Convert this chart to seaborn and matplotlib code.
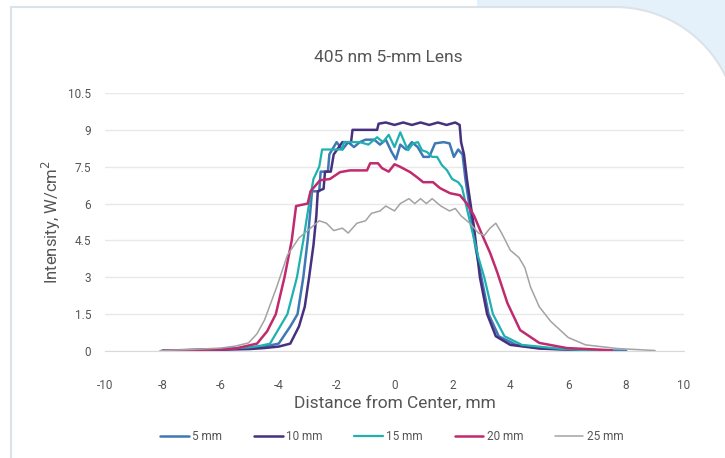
import numpy as np
import pandas as pd
import seaborn as sns
import matplotlib
matplotlib.use("Agg")
from matplotlib import pyplot as plt
from matplotlib.path import Path
from matplotlib.patches import PathPatch, Rectangle

# values
x5 = [-8.0, -7.0, -6.0, -5.0, -4.5, -4.0, -3.6, -3.35, -3.15, -3.0, -2.9, -2.85, -2.6, -2.55, -2.3, -2.25,
      -2.0, -1.8, -1.6, -1.4, -1.2, -1.0, -0.7, -0.5, -0.3, -0.1, 0.05, 0.2, 0.4, 0.6, 0.8, 1.0, 1.2,
      1.4, 1.7, 1.9, 2.05, 2.2, 2.35, 2.45, 2.6, 2.8, 3.0, 3.25, 3.6, 4.2, 5.0, 6.0, 7.0, 8.0]
y5 = [0.02, 0.04, 0.07, 0.12, 0.18, 0.3, 1.0, 1.5, 3.0, 4.5, 5.8, 6.5, 6.5, 7.3, 7.3, 8.0,
      8.5, 8.2, 8.5, 8.3, 8.5, 8.6, 8.6, 8.4, 8.6, 8.1, 7.8, 8.4, 8.2, 8.5, 8.3, 7.9, 7.9,
      8.45, 8.5, 8.45, 7.9, 8.2, 8.0, 7.0, 5.8, 4.2, 3.0, 1.5, 0.6, 0.25, 0.12, 0.06, 0.03, 0.01]

x10 = [-8.0, -7.0, -6.0, -5.0, -4.5, -4.0, -3.6, -3.3, -3.1, -2.95, -2.8, -2.7, -2.65, -2.45, -2.4, -2.2,
       -2.1, -1.8, -1.5, -1.45, -0.6, -0.55, -0.3, 0.0, 0.3, 0.6, 0.9, 1.2, 1.5, 1.8, 2.1, 2.25,
       2.3, 2.4, 2.5, 2.75, 2.95, 3.2, 3.5, 4.0, 5.0, 6.5, 7.5]
y10 = [0.02, 0.03, 0.05, 0.08, 0.12, 0.18, 0.3, 1.0, 1.8, 3.0, 4.3, 5.5, 6.5, 6.6, 7.3, 7.3,
       8.0, 8.5, 8.5, 9.0, 9.0, 9.25, 9.3, 9.2, 9.3, 9.2, 9.3, 9.2, 9.3, 9.2, 9.3, 9.2,
       8.5, 8.0, 7.0, 5.0, 3.0, 1.5, 0.6, 0.25, 0.1, 0.03, 0.01]

x15 = [-8.0, -7.0, -6.0, -5.0, -4.6, -4.3, -3.95, -3.7, -3.37, -3.15, -2.95, -2.8, -2.6, -2.5, -1.8,
       -1.75, -1.2, -0.9, -0.6, -0.4, -0.2, 0.0, 0.2, 0.36, 0.47, 0.64, 0.81, 0.95, 1.12, 1.3, 1.47,
       1.64, 1.81, 1.99, 2.2, 2.33, 2.5, 2.7, 2.9, 3.1, 3.4, 3.8, 4.4, 5.8, 7.0]
y15 = [0.02, 0.04, 0.08, 0.15, 0.22, 0.3, 1.0, 1.5, 3.0, 4.5, 6.0, 7.0, 7.5, 8.2, 8.2,
       8.5, 8.5, 8.4, 8.7, 8.5, 8.8, 8.3, 8.9, 8.45, 8.17, 8.45, 8.5, 8.17, 8.1, 7.9, 7.9,
       7.56, 7.36, 7.0, 6.87, 6.67, 5.8, 4.8, 3.8, 3.0, 1.5, 0.6, 0.25, 0.08, 0.02]

x20 = [-8.0, -7.0, -6.0, -5.5, -4.75, -4.4, -4.1, -3.8, -3.55, -3.4, -3.0, -2.9, -2.57, -2.23, -1.88,
       -1.54, -0.95, -0.84, -0.57, -0.43, -0.2, 0.0, 0.19, 0.54, 0.78, 0.99, 1.33, 1.57, 1.92, 2.26,
       2.5, 2.75, 3.0, 3.3, 3.55, 3.9, 4.34, 5.0, 5.95, 7.5]
y20 = [0.02, 0.04, 0.07, 0.1, 0.3, 0.8, 1.5, 3.0, 4.5, 5.9, 6.0, 6.5, 6.95, 7.0, 7.28,
       7.35, 7.35, 7.64, 7.64, 7.44, 7.3, 7.6, 7.5, 7.28, 7.07, 6.87, 6.87, 6.63, 6.42, 6.34,
       6.0, 5.5, 4.8, 4.0, 3.2, 1.95, 0.85, 0.33, 0.12, 0.03]

x25 = [-8.1, -7.0, -6.0, -5.5, -5.04, -4.75, -4.49, -4.07, -3.7, -3.3, -2.9, -2.6, -2.35, -2.1, -1.8,
       -1.6, -1.3, -1.0, -0.8, -0.5, -0.3, 0.0, 0.2, 0.5, 0.7, 0.9, 1.1, 1.3, 1.6, 1.9, 2.1, 2.3,
       2.6, 2.9, 3.1, 3.3, 3.5, 3.7, 4.0, 4.3, 4.5, 4.7, 5.0, 5.4, 6.0, 6.6, 7.7, 9.0]
y25 = [0.02, 0.06, 0.12, 0.2, 0.33, 0.7, 1.26, 2.6, 3.9, 4.6, 5.0, 5.3, 5.2, 4.9, 5.0,
       4.8, 5.2, 5.3, 5.6, 5.7, 5.9, 5.7, 6.0, 6.2, 6.0, 6.2, 6.0, 6.2, 5.9, 5.7, 5.8, 5.5,
       5.2, 4.8, 4.7, 5.0, 5.2, 4.8, 4.1, 3.8, 3.4, 2.6, 1.8, 1.2, 0.55, 0.25, 0.1, 0.02]

labels = ["5 mm", "10 mm", "15 mm", "20 mm", "25 mm"]
colors = ["#3f78b5", "#46307f", "#1fb0b0", "#c02a6e", "#a3a3a3"]
widths = [1.8, 1.8, 1.6, 1.8, 1.1]
yticks = [0, 1.5, 3, 4.5, 6, 7.5, 9, 10.5]
ytick_labels = ["0", "1.5", "3", "4.5", "6", "7.5", "9", "10.5"]
xticks = [-10, -8, -6, -4, -2, 0, 2, 4, 6, 8, 10]

frames = []
for lab, xs, ys in zip(labels, [x5, x10, x15, x20, x25], [y5, y10, y15, y20, y25]):
    frames.append(pd.DataFrame({"dist": xs, "intensity": ys, "lens": lab}))
df = pd.concat(frames, ignore_index=True)

sns.set_style("white")
plt.rcParams['font.family'] = ['Roboto', 'DejaVu Sans']
plt.rcParams['axes.unicode_minus'] = False

W, H = 725, 458
fig = plt.figure(figsize=(W / 100, H / 100), dpi=100)


def fx(px):
    return px / W


def fy(py):
    return 1 - py / H


# light blue background corner + white card with rounded top right corner
fig.patches.append(Rectangle((fx(477), fy(135)), fx(W) - fx(477), fy(0) - fy(135),
                             transform=fig.transFigure, facecolor="#e5f1fa", edgecolor="none", zorder=0))
cx, cy, r = 615, 130, 123
t = np.linspace(-np.pi / 2, 0, 40)
arc = [(fx(cx + r * np.cos(a)), fy(cy + r * np.sin(a))) for a in t]
verts = [(fx(11), fy(470)), (fx(11), fy(7))] + arc + [(fx(cx + r), fy(470)), (fx(11), fy(470))]
codes = [Path.MOVETO] + [Path.LINETO] * (len(verts) - 2) + [Path.CLOSEPOLY]
fig.patches.append(PathPatch(Path(verts, codes), transform=fig.transFigure,
                             facecolor="white", edgecolor="#dce3e8", linewidth=1.5, zorder=1))

ax = fig.add_axes([fx(105), fy(351), fx(684) - fx(105), fy(93) - fy(351)])
ax.set_facecolor("none")
ax.set_zorder(2)

for lab, c, lw in zip(labels, colors, widths):
    sns.lineplot(data=df[df.lens == lab], x="dist", y="intensity", color=c, linewidth=lw,
                 sort=False, estimator=None, ax=ax, label=lab)

ax.set_xlim(-10, 10)
ax.set_ylim(0, 10.5)
ax.set_xticks(xticks)
ax.set_yticks(yticks)
ax.set_yticklabels(ytick_labels)
ax.tick_params(length=0, labelsize=8.5, labelcolor="#555555")
ax.tick_params(axis="x", pad=20)
ax.tick_params(axis="y", pad=10)
ax.yaxis.grid(True, color="#e8e8e8", linewidth=1)
for s in ["top", "right", "left"]:
    ax.spines[s].set_visible(False)
ax.spines["bottom"].set_color("#d9d9d9")
ax.set_xlabel("Distance from Center, mm", fontsize=12.5, color="#555555", labelpad=3)
ax.set_ylabel("Intensity, W/cm$^2$", fontsize=12, color="#555555", labelpad=4)

fig.text(fx(388), fy(58), "405 nm 5-mm Lens", ha="center", va="center", fontsize=12.5, color="#555555")

leg = ax.legend(loc="center", bbox_to_anchor=(fx(392), fy(437)), bbox_transform=fig.transFigure,
                ncol=5, frameon=False, fontsize=8.5, handlelength=2.4, handletextpad=0.3,
                columnspacing=2.7, labelcolor="#555555")

fig.savefig("out.png", dpi=100)
